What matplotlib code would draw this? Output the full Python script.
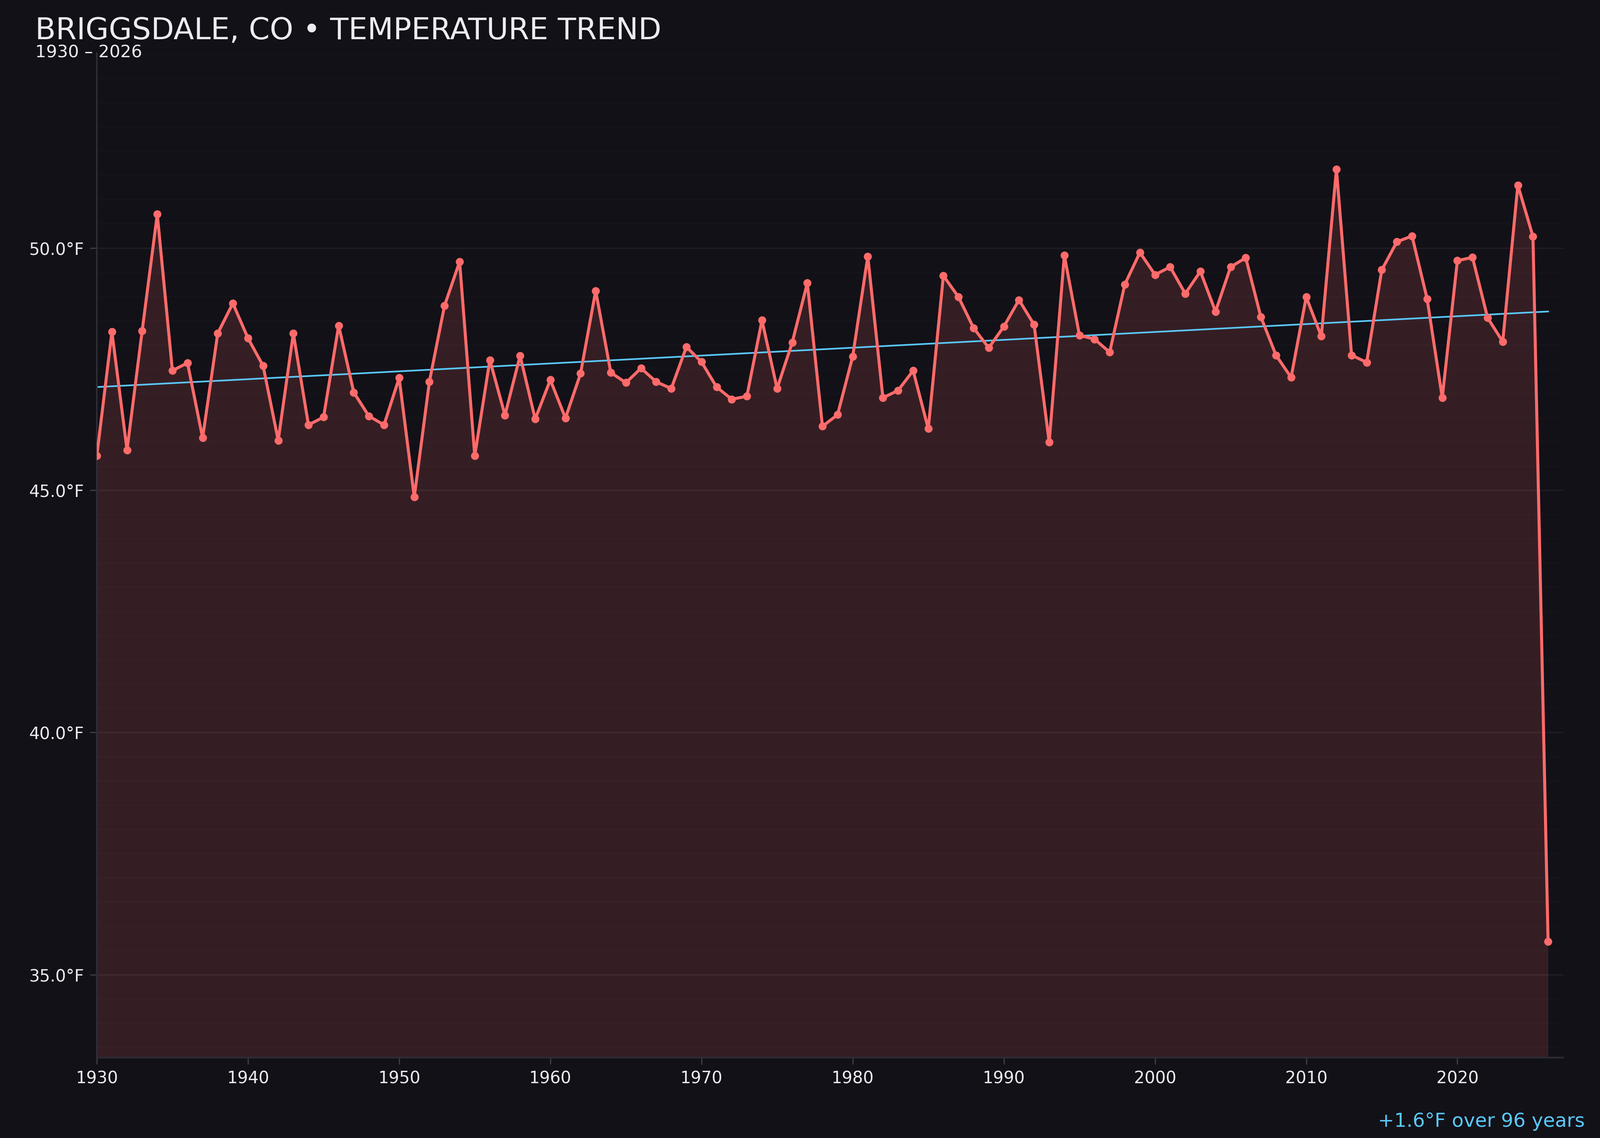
import numpy as np
import matplotlib
matplotlib.use("Agg")
import matplotlib.pyplot as plt
from matplotlib.ticker import MultipleLocator, FuncFormatter

# Annual mean temperature, Briggsdale CO
YEARS = list(range(1930, 2027))
TEMPS = [
    45.71, 48.27, 45.83, 48.29, 50.70, 47.47, 47.63, 46.08, 48.24, 48.86,  # 1930s
    48.14, 47.57, 46.03, 48.24, 46.35, 46.51, 48.40, 47.02, 46.53, 46.35,  # 1940s
    47.32, 44.86, 47.24, 48.81, 49.72, 45.71, 47.69, 46.55, 47.78, 46.47,  # 1950s
    47.28, 46.49, 47.41, 49.12, 47.43, 47.22, 47.52, 47.24, 47.10, 47.96,  # 1960s
    47.65, 47.13, 46.88, 46.94, 48.51, 47.10, 48.05, 49.28, 46.32, 46.56,  # 1970s
    47.76, 49.83, 46.91, 47.06, 47.47, 46.27, 49.43, 48.99, 48.35, 47.94,  # 1980s
    48.38, 48.93, 48.42, 45.99, 49.85, 48.20, 48.12, 47.85, 49.25, 49.91,  # 1990s
    49.45, 49.61, 49.06, 49.52, 48.69, 49.61, 49.80, 48.58, 47.79, 47.33,  # 2000s
    48.99, 48.18, 51.63, 47.79, 47.64, 49.55, 50.13, 50.25, 48.95, 46.91,  # 2010s
    49.74, 49.81, 48.56, 48.07, 51.30, 50.24, 35.68,                       # 2020s
]

TITLE = "BRIGGSDALE, CO \u2022 TEMPERATURE TREND"
SUBTITLE = "1930 \u2013 2026"

BG = "#121117"
LINE_COLOR = "#ff6b6b"
TREND_COLOR = "#5ac8fa"
TEXT_COLOR = "#ecebf0"

years = np.array(YEARS)
temps = np.array(TEMPS)

# linear trend over the whole record
slope, intercept = np.polyfit(years, temps, 1)
trend = slope * years + intercept
span = years[-1] - years[0]
change = slope * span

fig = plt.figure(figsize=(4000 / 300, 2844 / 300), dpi=300, facecolor=BG)
ax = fig.add_axes([0.0605, 0.0707, 0.9165, 0.8825])
ax.set_facecolor(BG)

rng = temps.max() - temps.min()
ymin = temps.min() - 0.15 * rng
ymax = temps.max() + 0.15 * rng
ax.set_ylim(ymin, ymax)
ax.set_xlim(1930, 2027)

ax.fill_between(years, temps, ymin, color=LINE_COLOR, alpha=0.15, linewidth=0)
ax.plot(years, temps, color=LINE_COLOR, linewidth=1.8, marker="o",
        markersize=3.8, zorder=3)
ax.plot(years, trend, color=TREND_COLOR, linewidth=1.0, zorder=2.5)

ax.yaxis.set_major_locator(MultipleLocator(5))
ax.yaxis.set_minor_locator(MultipleLocator(0.5))
ax.yaxis.set_major_formatter(FuncFormatter(lambda v, p: f"{v:.1f}\u00b0F"))
ax.xaxis.set_major_locator(MultipleLocator(10))

ax.grid(which="major", axis="y", color="#ffffff", alpha=0.06, linewidth=0.8)
ax.grid(which="minor", axis="y", color="#ffffff", alpha=0.018, linewidth=0.6)
ax.tick_params(axis="y", which="minor", length=0)
ax.tick_params(axis="both", which="major", colors="#3a3a44", labelcolor=TEXT_COLOR,
               labelsize=10, length=4, width=0.8)

for side in ("top", "right"):
    ax.spines[side].set_visible(False)
for side in ("left", "bottom"):
    ax.spines[side].set_color("#2c2c35")
    ax.spines[side].set_linewidth(1.0)

fig.text(0.022, 0.9655, TITLE, color=TEXT_COLOR, fontsize=18, ha="left", va="baseline")
fig.text(0.022, 0.9495, SUBTITLE, color=TEXT_COLOR, fontsize=10.3, ha="left", va="baseline")
fig.text(0.9905, 0.0098, f"{change:+.1f}\u00b0F over {span} years", color=TREND_COLOR,
         fontsize=11.6, ha="right", va="baseline")

fig.savefig("out.png", dpi=300, facecolor=BG)
